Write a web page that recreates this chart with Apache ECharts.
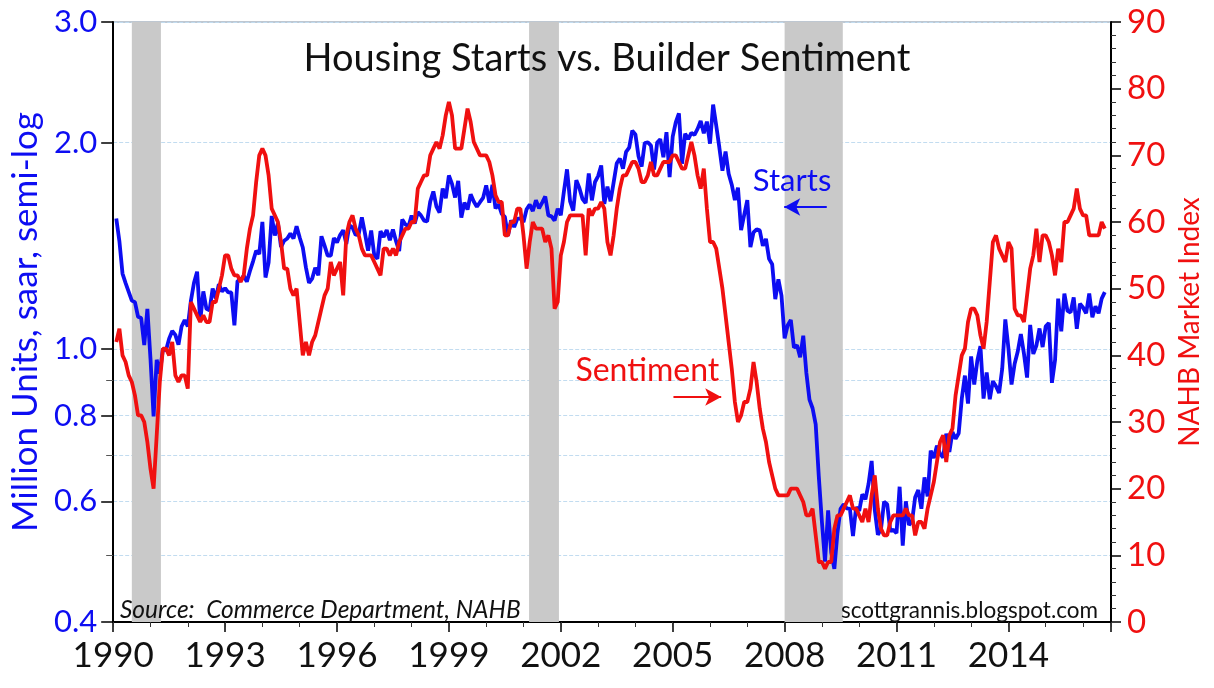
<!DOCTYPE html>
<html><head><meta charset="utf-8">
<script src="https://cdn.jsdelivr.net/npm/echarts@6/dist/echarts.min.js"></script>
<style>html,body{margin:0;padding:0;background:#fff}#c{width:1214px;height:688px}</style>
</head><body><div id="c"></div>
<script>
// ---- DATA ----
const firstYear = 1990;
// Housing starts, thousands of units, saar, monthly Jan 1990 .. Jul 2016
const startsK = [
1551,1437,1289,1248,1212,1177,1171,1115,1110,1014,1145,969,
798,965,921,1001,996,1036,1063,1049,1015,1079,1103,1079,
1176,1250,1297,1099,1214,1145,1139,1226,1186,1244,1214,1227,
1210,1210,1083,1258,1260,1280,1254,1300,1343,1392,1376,1533,
1272,1337,1564,1465,1526,1409,1439,1450,1474,1450,1511,1455,
1407,1316,1249,1267,1314,1281,1461,1416,1369,1369,1452,1431,
1467,1491,1424,1516,1504,1467,1472,1557,1475,1392,1489,1370,
1355,1486,1457,1492,1442,1494,1437,1390,1546,1520,1510,1566,
1525,1584,1567,1540,1536,1641,1698,1614,1582,1715,1660,1792,
1742,1664,1760,1555,1636,1598,1682,1642,1613,1638,1662,1733,
1636,1737,1604,1626,1575,1559,1463,1541,1507,1549,1551,1532,
1600,1625,1590,1649,1605,1636,1670,1567,1562,1540,1602,1568,
1698,1829,1642,1592,1764,1717,1655,1633,1804,1648,1753,1788,
1853,1629,1726,1643,1751,1867,1897,1833,1939,1967,2083,2057,
1911,1846,1998,2003,1981,1828,2002,2024,1905,2072,1782,2042,
2144,2207,1864,2061,2025,2068,2054,2095,2151,2065,2147,1994,
2273,2119,1969,1821,1942,1802,1737,1650,1720,1491,1570,1649,
1409,1480,1495,1490,1415,1448,1354,1330,1183,1264,1197,1037,
1084,1103,1005,1013,973,1046,923,844,820,777,652,560,
490,582,505,478,540,585,594,586,585,534,588,581,
614,604,636,687,583,536,546,599,594,543,545,539,
630,517,600,554,561,608,623,585,650,610,711,694,
723,704,695,753,708,757,740,754,847,915,833,976,
888,962,1010,847,925,845,898,883,863,936,1105,1003,
888,952,992,1052,985,909,1085,984,1012,1072,1007,1080,
1092,893,964,1185,1062,1205,1137,1131,1190,1071,1165,1150,
1128,1205,1113,1155,1128,1185,1211
];
// NAHB housing market index, monthly Jan 1990 .. Jul 2016
const nahb = [
42,44,40,39,37,36,34,31,31,30,27,23,
20,28,36,41,41,40,42,37,36,37,37,35,
48,47,46,45,46,45,45,48,48,50,52,55,
55,53,52,52,51,52,56,59,61,66,70,71,
70,67,62,61,60,57,53,53,50,49,50,45,
40,42,40,42,43,45,47,49,50,54,52,53,
54,49,58,60,61,59,58,56,55,55,55,54,
53,52,56,56,55,56,55,57,58,59,59,60,
60,65,66,67,67,70,71,72,71,73,76,78,
76,71,71,71,74,77,75,72,71,70,70,70,
69,67,64,63,63,58,58,60,60,62,62,58,
53,57,60,59,59,59,57,58,56,47,48,55,
57,60,61,61,61,61,61,55,62,61,62,62,
63,62,57,55,58,62,65,67,67,68,69,69,
68,66,66,67,69,67,67,68,69,69,69,70,
70,69,68,68,70,72,70,67,65,68,62,57,
57,56,53,50,46,42,38,33,30,31,33,33,
35,39,36,32,29,27,24,22,20,19,19,19,
19,20,20,20,19,18,16,16,17,13,9,9,
8,9,9,14,16,16,17,18,19,17,17,16,
15,17,15,19,22,17,14,13,13,15,16,16,
16,16,17,16,16,13,15,15,14,17,19,21,
24,27,28,24,28,29,34,37,40,41,45,47,
47,46,43,41,45,51,57,58,56,55,54,57,
56,47,46,46,45,49,53,55,59,54,58,58,
57,55,52,56,54,60,60,61,62,65,62,61,
61,58,58,58,58,60,59
];
// NBER recessions (decimal years)
const recessions = [[1990.5, 1991.28], [2001.15, 2001.95], [2008.0, 2009.56]];
const leftTickLabels = [0.4, 0.6, 0.8, 1.0, 2.0, 3.0];
const leftMinorTicks = [0.5, 0.7, 0.9];
const rightMin = 0, rightMax = 90, rightStep = 10;
const xSpanYears = 26.75;

// ---- BUILD ----
const monthX = i => (i + 1) / 12;           // month-end position, years after 1990
const startsData = startsK.map((v, i) => [monthX(i), v / 1000]);
const nahbData = nahb.map((v, i) => [monthX(i), v]);

const FONT = 'Lato';
const BLUE = '#0d0df2';
const RED = '#f01010';
const GRID = '#c2dcf0';

const chart = echarts.init(document.getElementById('c'), null, {renderer: 'canvas'});
chart.setOption({
  backgroundColor: '#ffffff',
  animation: false,
  textStyle: {fontFamily: FONT},
  title: [
    {text: 'Housing Starts vs. Builder Sentiment', left: 'center', top: 35,
     textStyle: {fontSize: 38, fontWeight: 'normal', color: '#111', fontFamily: FONT}},
    {text: 'Source:  Commerce Department, NAHB', left: 115, top: 593,
     textStyle: {fontSize: 24.5, fontStyle: 'italic', fontWeight: 'normal', color: '#111', fontFamily: FONT}},
    {text: 'scottgrannis.blogspot.com', right: 111, top: 594,
     textStyle: {fontSize: 22.5, fontWeight: 'normal', color: '#111', fontFamily: FONT}}
  ],
  grid: {left: 110, right: 103, top: 22, bottom: 66, show: true, borderColor: '#7d8fa3', borderWidth: 1, backgroundColor: 'transparent'},
  xAxis: [
    {type: 'value', min: 0, max: xSpanYears, interval: 3, position: 'bottom',
     axisLine: {onZero: false, lineStyle: {color: '#000', width: 2}},
     axisTick: {show: true, length: 10, lineStyle: {color: '#000', width: 1.5}},
     axisLabel: {color: '#111', fontSize: 35, margin: 16, fontFamily: FONT,
       formatter: v => Number.isInteger(v) ? String(firstYear + v) : ''},
     splitLine: {show: false}},
    {type: 'value', min: 0, max: xSpanYears, interval: 1, position: 'bottom',
     axisLine: {show: false, onZero: false},
     axisTick: {show: true, length: 5, lineStyle: {color: '#333', width: 1}},
     axisLabel: {show: false}, splitLine: {show: false}}
  ],
  yAxis: [
    {type: 'log', logBase: 10, min: 0.4, max: 3.0, position: 'left',
     name: 'Million Units, saar, semi-log', nameLocation: 'middle', nameRotate: 90, nameGap: 64,
     nameTextStyle: {color: BLUE, fontSize: 35, fontFamily: FONT},
     axisLine: {show: true, onZero: false, lineStyle: {color: '#000', width: 2}},
     axisTick: {show: true, length: 12, customValues: leftTickLabels, lineStyle: {color: '#000', width: 1.5}},
     axisLabel: {color: BLUE, fontSize: 31, margin: 16, fontFamily: FONT, customValues: leftTickLabels,
       formatter: v => Number(v).toFixed(1)},
     splitLine: {show: true, lineStyle: {color: GRID, type: 'dashed', width: 1}}},
    {type: 'value', min: rightMin, max: rightMax, interval: rightStep, position: 'right',
     name: 'NAHB Market Index', nameLocation: 'middle', nameRotate: 90, nameGap: 60,
     nameTextStyle: {color: RED, fontSize: 28, fontFamily: FONT},
     axisLine: {show: true, onZero: false, lineStyle: {color: '#000', width: 2}},
     axisTick: {show: true, length: 10, lineStyle: {color: '#000', width: 1.5}},
     minorTick: {show: true, splitNumber: 5, length: 5, lineStyle: {color: '#333', width: 1}},
     axisLabel: {color: RED, fontSize: 33, margin: 16, fontFamily: FONT},
     splitLine: {show: false}},
    {type: 'log', logBase: 10, min: 0.4, max: 3.0, position: 'left',
     axisLine: {show: false, onZero: false},
     axisTick: {show: true, length: 7, customValues: leftMinorTicks, lineStyle: {color: '#555', width: 1}},
     axisLabel: {show: false, customValues: leftMinorTicks},
     splitLine: {show: true, lineStyle: {color: GRID, type: 'dashed', width: 1}}}
  ],
  series: [
    {name: 'Starts', type: 'line', xAxisIndex: 0, yAxisIndex: 0, data: startsData,
     showSymbol: false, symbol: 'none', smooth: false,
     lineStyle: {color: BLUE, width: 3.8}, itemStyle: {color: BLUE}, z: 3,
     markArea: {silent: true, itemStyle: {color: '#c9c9c9'},
       data: recessions.map(r => [{xAxis: r[0] - firstYear}, {xAxis: r[1] - firstYear}])},
     markLine: {silent: true, symbol: ['none', 'arrow'], symbolSize: [13, 16], animation: false,
       lineStyle: {color: BLUE, width: 2, type: 'solid'}, label: {show: false},
       data: [[{coord: [19.13, 1.612]}, {coord: [17.99, 1.612]}]]},
     markPoint: {silent: true, symbol: 'circle', symbolSize: 1, itemStyle: {color: 'rgba(0,0,0,0)'},
       label: {show: true, position: 'inside', color: BLUE, fontSize: 31, fontFamily: FONT, formatter: p => p.name},
       data: [{name: 'Starts', coord: [18.2, 1.759]}]}},
    {name: 'Sentiment', type: 'line', xAxisIndex: 0, yAxisIndex: 1, data: nahbData,
     showSymbol: false, symbol: 'none', smooth: false,
     lineStyle: {color: RED, width: 3.8}, itemStyle: {color: RED}, z: 4,
     markLine: {silent: true, symbol: ['none', 'arrow'], symbolSize: [13, 16], animation: false,
       lineStyle: {color: RED, width: 2, type: 'solid'}, label: {show: false},
       data: [[{coord: [15.02, 33.75]}, {coord: [16.3, 33.75]}]]},
     markPoint: {silent: true, symbol: 'circle', symbolSize: 1, itemStyle: {color: 'rgba(0,0,0,0)'},
       label: {show: true, position: 'inside', color: RED, fontSize: 32, fontFamily: FONT, formatter: p => p.name},
       data: [{name: 'Sentiment', coord: [14.32, 37.65]}]}}
  ]
});
</script></body></html>
